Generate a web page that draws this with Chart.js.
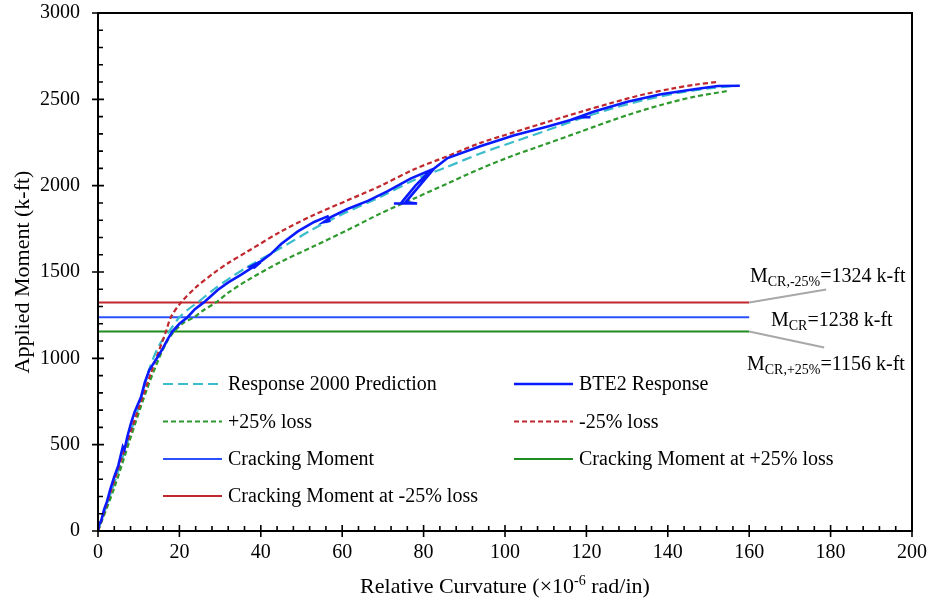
<!DOCTYPE html>
<html>
<head>
<meta charset="utf-8">
<script src="https://cdn.jsdelivr.net/npm/chart.js@4.4.1/dist/chart.umd.min.js"></script>
<style>
  html, body { margin: 0; padding: 0; background: #fff; }
  canvas { display: block; }
</style>
</head>
<body>
<canvas id="chart" width="934" height="604"></canvas>
<script>
// Moment–curvature data: [relative curvature (x10^-6 rad/in), applied moment (k-ft)]
const predictionPts = [
  [0, 0], [5, 350], [10, 720], [12.5, 930], [15, 1075], [17.5, 1156], [20, 1238],
  [22.5, 1290], [24.5, 1324], [28.5, 1400], [32.7, 1470], [36.8, 1530], [45, 1640],
  [53, 1750], [61.3, 1849], [69.5, 1936], [77.7, 2033], [85.9, 2110], [94.1, 2188],
  [102.3, 2255], [110.5, 2322], [118.7, 2390], [126, 2445], [134, 2495], [142, 2535],
  [150, 2563], [156, 2578]
];

const plus25Pts = [
  [0, 0], [4, 250], [8, 540], [12, 820], [15, 1000], [17, 1100], [18.7, 1156],
  [21, 1205], [23.6, 1238], [26, 1280], [29, 1324], [32, 1380], [36.8, 1453],
  [45, 1560], [53.1, 1650], [61.3, 1743], [69.5, 1840], [77.7, 1926], [85.9, 2013],
  [94.1, 2100], [102.3, 2177], [110.5, 2245], [118.7, 2314], [122, 2342],
  [130.1, 2409], [138.3, 2467], [146.5, 2515], [154.7, 2548]
];

const minus25Pts = [
  [0, 0], [6.5, 470], [13, 915], [16.7, 1156], [17.9, 1238], [20.4, 1324],
  [24, 1410], [28.5, 1495], [32, 1552], [36.8, 1620], [45, 1735], [53, 1830],
  [61.3, 1915], [69.5, 2000], [77.7, 2095], [86, 2172], [94, 2248], [102.3, 2310],
  [110.5, 2370], [118.7, 2428], [126, 2478], [134, 2528], [141, 2562], [147, 2586],
  [152.5, 2602]
];

const bte2Pts = [
  [0, 0], [0.3, 40], [0.8, 60], [1.5, 125], [2.2, 170], [3, 240], [4, 315], [5, 380],
  [6.1, 488], [6.5, 470], [7.2, 545], [8.1, 624], [9, 690], [10.6, 778], [11.5, 860],
  [12.6, 932], [13.5, 965], [14.7, 1009], [16, 1060], [17.1, 1110], [18.3, 1156],
  [20, 1200], [22, 1238], [23.8, 1285], [26, 1324], [27.5, 1355], [29.4, 1396],
  [32, 1440], [35.1, 1483], [37, 1512], [39.2, 1545], [40, 1558], [38.4, 1525],
  [37.4, 1530], [40.2, 1565], [42.5, 1605], [45, 1662], [49.1, 1735], [53.1, 1790],
  [56.4, 1822], [56.8, 1795], [55.4, 1788], [57.2, 1818], [61.3, 1865], [66.3, 1912],
  [71.2, 1968], [76.9, 2042], [81.8, 2091], [78, 2000], [75, 1915], [74.4, 1897],
  [72.7, 1897], [78.4, 1897], [75.6, 1905], [82.6, 2100], [85.9, 2160], [94.1, 2230],
  [102.3, 2292], [110.5, 2342], [118.7, 2398], [121, 2397], [118, 2397], [121.9, 2430],
  [130.1, 2486], [138.3, 2529], [146.5, 2558], [152.3, 2577], [157.7, 2579]
];

// Cracking moments (k-ft) and the curvature span of their reference lines
const crackingMoment = 1238;
const crackingMomentPlus25 = 1156;
const crackingMomentMinus25 = 1324;
const crackLineSpan = [0, 160];

// Axis ranges and tick steps
const xRange = [0, 200];
const yRange = [0, 3000];
const xMajor = 20, xMinor = 4;
const yMajor = 500, yMinor = 100;

const SERIF = '"Liberation Serif", "Times New Roman", serif';

const toXY = pts => pts.map(p => ({ x: p[0], y: p[1] }));
const hLine = v => crackLineSpan.map(x => ({ x, y: v }));

const datasets = [
  { label: 'BTE2 Response', data: toXY(bte2Pts), borderColor: '#0a1aff', borderWidth: 2.6, borderDash: [], tension: 0, order: 0 },
  { label: '-25% loss', data: toXY(minus25Pts), borderColor: '#c0282d', borderWidth: 2.2, borderDash: [5, 3], tension: 0.3, order: 1 },
  { label: '+25% loss', data: toXY(plus25Pts), borderColor: '#2e9a2e', borderWidth: 2.2, borderDash: [5, 3], tension: 0.3, order: 2 },
  { label: 'Response 2000 Prediction', data: toXY(predictionPts), borderColor: '#3bbccb', borderWidth: 2.2, borderDash: [10, 5], tension: 0.3, order: 3 },
  { label: 'Cracking Moment', data: hLine(crackingMoment), borderColor: '#2a50ff', borderWidth: 2, borderDash: [], tension: 0, order: 4 },
  { label: 'Cracking Moment at +25% loss', data: hLine(crackingMomentPlus25), borderColor: '#1f8c1f', borderWidth: 2, borderDash: [], tension: 0, order: 5 },
  { label: 'Cracking Moment at -25% loss', data: hLine(crackingMomentMinus25), borderColor: '#c0272d', borderWidth: 2, borderDash: [], tension: 0, order: 6 }
];
datasets.forEach(d => { d.showLine = true; d.pointRadius = 0; d.fill = false; });

// Legend layout: two columns of entries inside the plot area
const legendRows = [
  ['Response 2000 Prediction', 'BTE2 Response'],
  ['+25% loss', '-25% loss'],
  ['Cracking Moment', 'Cracking Moment at +25% loss'],
  ['Cracking Moment at -25% loss', null]
];

const framePlugin = {
  id: 'frame',
  afterDraw(chart) {
    const { ctx, chartArea: a, scales: { x, y } } = chart;
    ctx.save();
    ctx.strokeStyle = '#000';
    ctx.lineWidth = 2;
    ctx.strokeRect(a.left, a.top, a.right - a.left, a.bottom - a.top);

    ctx.lineWidth = 1.6;
    ctx.beginPath();
    for (let v = xRange[0]; v <= xRange[1] + 1e-9; v += xMinor) {
      const px = x.getPixelForValue(v);
      const major = Math.abs(v / xMajor - Math.round(v / xMajor)) < 1e-6;
      ctx.moveTo(px, a.bottom - (major ? 6 : 5));
      ctx.lineTo(px, a.bottom + (major ? 6 : 0));
    }
    for (let v = yRange[0]; v <= yRange[1] + 1e-9; v += yMinor) {
      const py = y.getPixelForValue(v);
      const major = Math.abs(v / yMajor - Math.round(v / yMajor)) < 1e-6;
      ctx.moveTo(a.left - (major ? 6 : 0), py);
      ctx.lineTo(a.left + (major ? 6 : 5), py);
    }
    ctx.stroke();

    // Axis titles
    ctx.fillStyle = '#000';
    ctx.textBaseline = 'alphabetic';
    const big = `22px ${SERIF}`, sup = `14px ${SERIF}`;
    const p1 = 'Relative Curvature (\u00d710', p2 = '-6', p3 = ' rad/in)';
    ctx.font = big; const w1 = ctx.measureText(p1).width, w3 = ctx.measureText(p3).width;
    ctx.font = sup; const w2 = ctx.measureText(p2).width;
    let tx = (a.left + a.right) / 2 - (w1 + w2 + w3) / 2;
    const ty = 593;
    ctx.textAlign = 'left';
    ctx.font = big; ctx.fillText(p1, tx, ty);
    ctx.font = sup; ctx.fillText(p2, tx + w1, ty - 8);
    ctx.font = big; ctx.fillText(p3, tx + w1 + w2, ty);

    ctx.save();
    ctx.translate(23, (a.top + a.bottom) / 2);
    ctx.rotate(-Math.PI / 2);
    ctx.textAlign = 'center';
    ctx.textBaseline = 'middle';
    ctx.font = big;
    ctx.fillText('Applied Moment (k-ft)', 0, 0);
    ctx.restore();

    // Legend
    const colX = [163, 514], rowY = [384, 421.5, 459, 496], lineLen = 59;
    ctx.font = `20px ${SERIF}`;
    ctx.textAlign = 'left';
    ctx.textBaseline = 'middle';
    legendRows.forEach((row, r) => row.forEach((label, c) => {
      if (!label) return;
      const ds = chart.data.datasets.find(d => d.label === label);
      const yy = rowY[r];
      ctx.save();
      ctx.strokeStyle = ds.borderColor;
      ctx.lineWidth = ds.borderWidth;
      ctx.setLineDash(ds.borderDash || []);
      ctx.beginPath();
      ctx.moveTo(colX[c], yy);
      ctx.lineTo(colX[c] + lineLen, yy);
      ctx.stroke();
      ctx.restore();
      ctx.fillStyle = '#000';
      ctx.fillText(label, colX[c] + lineLen + 6, yy + 1);
    }));

    // Cracking-moment callouts
    const ex = x.getPixelForValue(crackLineSpan[1]);
    const yMinus = y.getPixelForValue(crackingMomentMinus25);
    const yPlus = y.getPixelForValue(crackingMomentPlus25);
    ctx.strokeStyle = '#a8a8a8';
    ctx.lineWidth = 2;
    ctx.beginPath();
    ctx.moveTo(ex, yMinus); ctx.lineTo(ex + 77, yMinus - 13);
    ctx.moveTo(ex, yPlus); ctx.lineTo(ex + 75, yPlus + 16);
    ctx.stroke();

    const callout = (x0, base, sub, rest) => {
      ctx.textAlign = 'left';
      ctx.textBaseline = 'alphabetic';
      ctx.fillStyle = '#000';
      ctx.font = `20px ${SERIF}`;
      ctx.fillText('M', x0, base);
      let w = ctx.measureText('M').width;
      ctx.font = `14px ${SERIF}`;
      ctx.fillText(sub, x0 + w, base + 4);
      w += ctx.measureText(sub).width;
      ctx.font = `20px ${SERIF}`;
      ctx.fillText(rest, x0 + w, base);
    };
    callout(750, 282, 'CR,-25%', `=${crackingMomentMinus25} k-ft`);
    callout(771, 326, 'CR', `=${crackingMoment} k-ft`);
    callout(747, 370, 'CR,+25%', `=${crackingMomentPlus25} k-ft`);
    ctx.restore();
  }
};

new Chart(document.getElementById('chart'), {
  type: 'scatter',
  data: { datasets },
  options: {
    responsive: false,
    animation: false,
    devicePixelRatio: 1,
    layout: { padding: { left: 0, right: 22, top: 13, bottom: 0 } },
    plugins: { legend: { display: false }, tooltip: { enabled: false } },
    scales: {
      x: {
        type: 'linear', min: xRange[0], max: xRange[1],
        grid: { display: false, drawTicks: true, tickLength: 10 },
        border: { display: false },
        ticks: { stepSize: xMajor, padding: 0, color: '#000', font: { family: SERIF, size: 20 }, callback: v => String(v) },
        afterFit(s) { s.height = 73; }
      },
      y: {
        type: 'linear', min: yRange[0], max: yRange[1],
        grid: { display: false, drawTicks: true, tickLength: 18 },
        border: { display: false },
        ticks: { stepSize: yMajor, padding: 0, color: '#000', font: { family: SERIF, size: 20 }, callback: v => String(v) },
        afterFit(s) { s.width = 98; }
      }
    }
  },
  plugins: [framePlugin]
});
</script>
</body>
</html>
